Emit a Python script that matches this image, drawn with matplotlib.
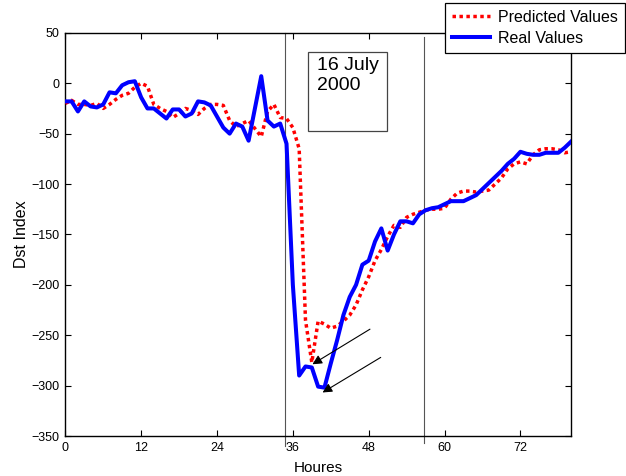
import matplotlib
matplotlib.use('Agg')
import matplotlib.pyplot as plt
from matplotlib.patches import Rectangle

plt.rcParams['font.family'] = ['Liberation Sans', 'DejaVu Sans']

# Hourly Dst values, hour 0..80
hours = list(range(81))

real_values = [-18, -18, -28, -18, -23, -24, -21, -9, -10, -2,
               1, 2, -14, -25, -25, -30, -35, -26, -26, -33,
               -30, -18, -19, -22, -33, -44, -50, -40, -43, -57,
               -25, 7, -37, -43, -40, -60, -200, -290, -281, -282,
               -301, -302, -278, -255, -230, -212, -200, -180, -176, -157,
               -144, -166, -150, -137, -137, -139, -130, -126, -124, -123,
               -120, -117, -117, -117, -114, -111, -105, -99, -93, -87,
               -80, -75, -68, -70, -71, -71, -69, -69, -69, -64,
               -58]

predicted_values = [-20, -17, -21, -21, -22, -20, -25, -21, -16, -12,
                    -10, -4, 0, -3, -21, -25, -28, -34, -30, -25,
                    -27, -31, -25, -21, -21, -22, -37, -43, -40, -37,
                    -45, -53, -28, -21, -34, -35, -44, -65, -235, -277,
                    -236, -239, -243, -241, -236, -230, -220, -205, -192, -176,
                    -165, -152, -141, -143, -133, -130, -128, -126, -125, -125,
                    -124, -115, -109, -107, -107, -108, -107, -106, -100, -94,
                    -85, -80, -78, -80, -71, -66, -65, -65, -66, -69,
                    -68]

x_ticks = [0, 12, 24, 36, 48, 60, 72]
y_ticks = [-350, -300, -250, -200, -150, -100, -50, 0, 50]
storm_bounds = [34.7, 56.75]

fig = plt.figure(figsize=(6.26, 4.76), dpi=100)
ax = fig.add_axes([0.1043, 0.084, 0.8078, 0.847])

ax.plot(hours, predicted_values, color='#ff0000', linewidth=2.5,
        linestyle=(0, (1, 1)), label='Predicted Values', zorder=3)
ax.plot(hours, real_values, color='#0000ff', linewidth=2.9,
        label='Real Values', zorder=4)

# storm window markers
ax.plot([storm_bounds[0]] * 2, [50, -360], color='#555555', linewidth=0.8,
        clip_on=False, zorder=2)
ax.plot([storm_bounds[1]] * 2, [46, -357], color='#555555', linewidth=0.8,
        clip_on=False, zorder=2)

# date box
ax.add_patch(Rectangle((38.4, -46.9), 12.5, 78.3, fill=False,
                       edgecolor='#444444', linewidth=0.9, zorder=5))
ax.text(39.8, 26, '16 July\n2000', fontsize=14, va='top', ha='left',
        linespacing=1.25, zorder=6)

# arrows to the minima
arrow_kw = dict(arrowstyle='-|>', color='black', linewidth=0.8,
                mutation_scale=14, shrinkA=0, shrinkB=0)
ax.annotate('', xy=(39.1, -278.8), xytext=(48.2, -244), arrowprops=arrow_kw, zorder=6)
ax.annotate('', xy=(40.7, -306.8), xytext=(49.9, -272), arrowprops=arrow_kw, zorder=6)

ax.set_xlim(0, 80)
ax.set_ylim(-350, 50)
ax.set_xticks(x_ticks)
ax.set_yticks(y_ticks)
ax.tick_params(direction='in', length=4, width=0.8, top=True, right=True,
               labelsize=9, pad=4)
for s in ax.spines.values():
    s.set_linewidth(1.0)

ax.set_xlabel('Houres', fontsize=11, labelpad=5)
ax.set_ylabel('Dst Index', fontsize=11.5, labelpad=2)

leg = fig.legend(loc='upper right', bbox_to_anchor=(0.998, 0.994),
                 borderaxespad=0, fontsize=11.5, fancybox=False,
                 edgecolor='black', framealpha=1, handlelength=2.4,
                 borderpad=0.45, labelspacing=0.35, handletextpad=0.45)
leg.get_frame().set_linewidth(0.9)

fig.savefig('out.png', dpi=100)
